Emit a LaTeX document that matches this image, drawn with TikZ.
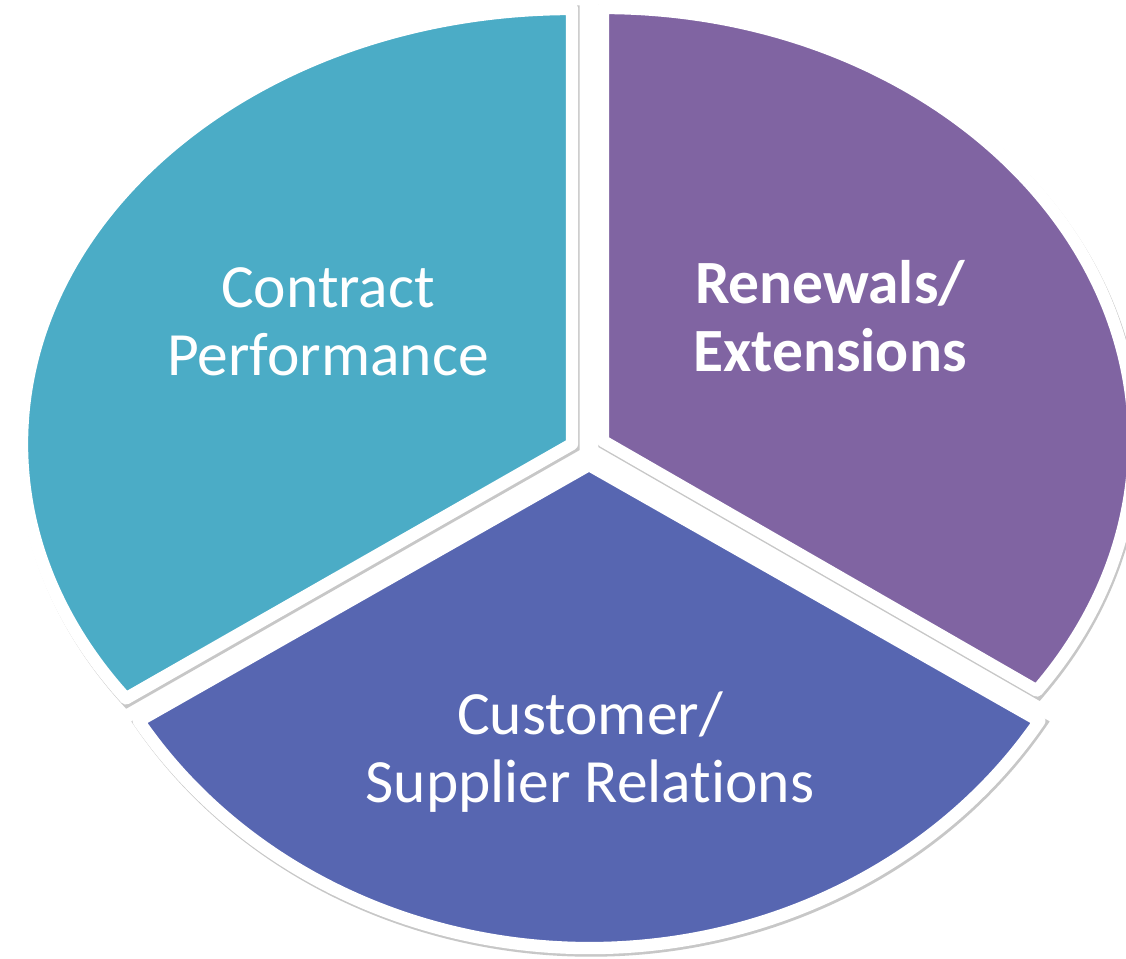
\documentclass[tikz,border=0pt]{standalone}
\usepackage{fontspec}
\setmainfont[Ligatures=NoCommon]{Carlito}
\usetikzlibrary{shadows}
\definecolor{tealpie}{HTML}{4BACC6}
\definecolor{purplepie}{HTML}{8064A2}
\definecolor{bluepie}{HTML}{5766B1}
\tikzset{
	slice/.style={draw=white, line width=7, line join=round,
		preaction={draw=black!22, line width=7, transform canvas={xshift=0.03cm, yshift=-0.05cm}},
		drop shadow={shadow xshift=0.04cm, shadow yshift=-0.07cm, opacity=0.3, fill=black!60}},
	pietext/.style={text=white, align=center, font=\fontsize{35}{39}\selectfont}
}
\begin{document}
\begin{tikzpicture}[x=0.02cm, y=0.02cm]
		%%%%% START %%%%%
		
		\fill[white] (0, 0) rectangle (1126, 958);
		\useasboundingbox (0, 0) rectangle (1126, 958);
		
		% left slice
		\draw[slice, fill=tealpie] (572, 514) -- ++(90:550 and 435)
			arc[start angle=90, end angle=215.8, x radius=550, y radius=435] -- cycle;
		
		% right slice
		\draw[slice, fill=purplepie] (603, 517) -- ++(90:531 and 433)
			arc[start angle=90, end angle=-35.2, x radius=531, y radius=433] -- cycle;
		
		% bottom slice
		\draw[slice, fill=bluepie] (589, 493) -- ++(212:531 and 483)
			arc[start angle=212, end angle=328, x radius=531, y radius=483] -- cycle;
		
		\node[pietext] (contract) at (328, 636) {Contract\\Performance};
		\node[pietext, font=\fontsize{35}{39}\selectfont\bfseries] (renewals) at (830, 642) {Renewals/\\Extensions};
		\node[pietext] (customer) at (590, 206) {Customer/\\Supplier Relations};
		
		%%%%% END %%%%%
	\end{tikzpicture}
\end{document}
